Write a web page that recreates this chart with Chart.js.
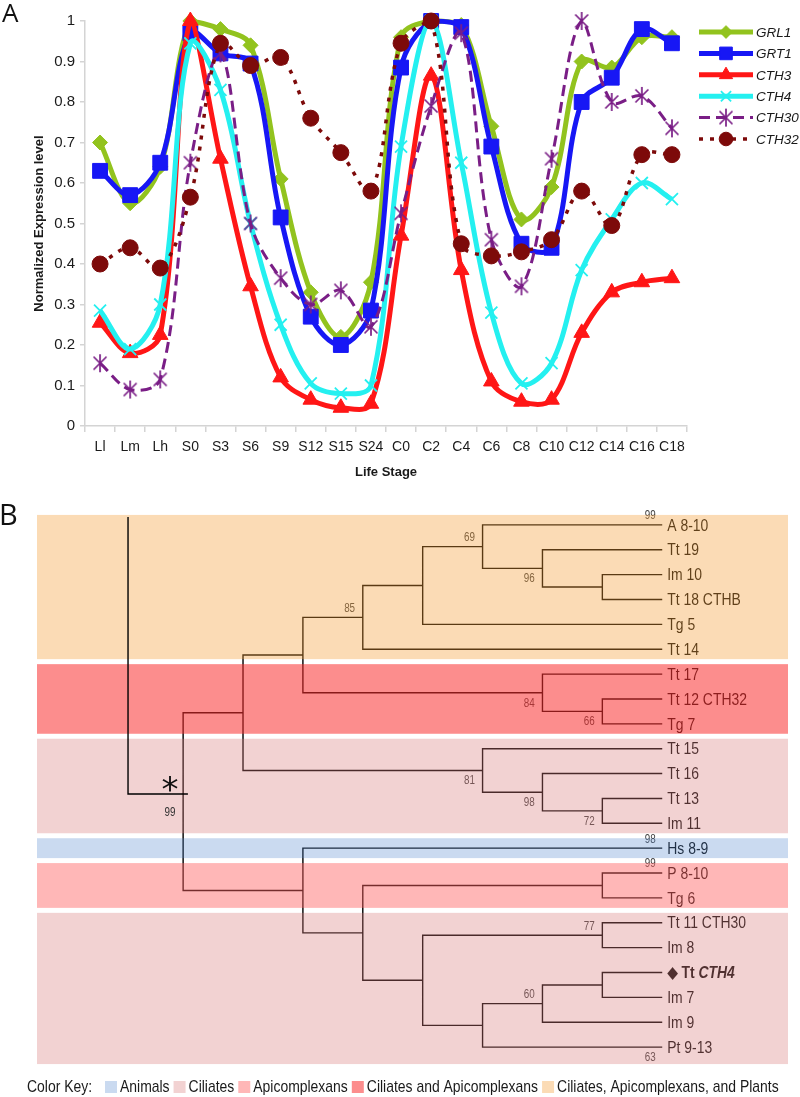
<!DOCTYPE html>
<html>
<head>
<meta charset="utf-8">
<script src="https://cdn.jsdelivr.net/npm/chart.js@4.4.1/dist/chart.umd.min.js"></script>
<style>
body { margin: 0; background: #fff; }
#wrap { position: relative; width: 800px; height: 1097px; }
.box { position: absolute; left: 0; width: 800px; }
</style>
</head>
<body>
<div id="wrap">
  <div class="box" style="top:0;height:490px"><canvas id="expr"></canvas></div>
  <div class="box" style="top:490px;height:607px"><canvas id="tree"></canvas></div>
</div>
<script>
// ---------- panel A : expression profiles ----------
const stages = ['Ll','Lm','Lh','S0','S3','S6','S9','S12','S15','S24','C0','C2','C4','C6','C8','C10','C12','C14','C16','C18'];
const seriesNames = ['GRL1','GRT1','CTH3','CTH4','CTH30','CTH32'];
const grl1  = [0.70,0.55,0.64,1.00,0.98,0.94,0.61,0.33,0.22,0.355,0.96,1.00,0.99,0.74,0.51,0.59,0.90,0.885,0.96,0.96];
const grt1  = [0.63,0.57,0.65,0.97,0.92,0.895,0.515,0.27,0.20,0.285,0.885,1.00,0.985,0.69,0.45,0.44,0.80,0.86,0.98,0.945];
const cth3  = [0.255,0.18,0.225,1.00,0.66,0.345,0.12,0.065,0.045,0.055,0.47,0.865,0.385,0.11,0.06,0.065,0.23,0.33,0.355,0.365];
const cth4  = [0.285,0.19,0.30,0.945,0.83,0.50,0.25,0.105,0.08,0.10,0.69,1.00,0.65,0.28,0.105,0.155,0.385,0.51,0.60,0.56];
const cth30 = [0.155,0.09,0.115,0.65,0.92,0.50,0.365,0.30,0.335,0.245,0.525,0.79,0.97,0.46,0.345,0.66,1.00,0.80,0.815,0.735];
const cth32 = [0.40,0.44,0.39,0.565,0.945,0.89,0.91,0.76,0.675,0.58,0.945,1.00,0.45,0.42,0.43,0.46,0.58,0.495,0.67,0.67];
const yTicks = [0,0.1,0.2,0.3,0.4,0.5,0.6,0.7,0.8,0.9,1];

// ---------- panel B : cladogram ----------
const leafNames = ['A 8-10','Tt 19','Im 10','Tt 18 CTHB','Tg 5','Tt 14','Tt 17','Tt 12 CTH32','Tg 7',
  'Tt 15','Tt 16','Tt 13','Im 11','Hs 8-9','P 8-10','Tg 6','Tt 11 CTH30','Im 8','Tt CTH4','Im 7','Im 9','Pt 9-13'];
const highlightLeaf = 18;
// internal nodes: depth level, children (leaf index or 'c'+clade index), bootstrap
const cladeLevel = [8,7,6,5,4,8,7,3,8,7,6,2,8,8,8,7,6,5,4,3,1];
const cladeKids = [[2,3],[1,'c0'],[0,'c1'],['c2',4],['c3',5],[7,8],[6,'c5'],['c4','c6'],[11,12],[10,'c8'],
  [9,'c9'],['c7','c10'],[14,15],[16,17],[18,19],['c14',20],['c15',21],['c13','c16'],['c12','c17'],[13,'c18'],['c11','c19']];
const cladeSupport = ['','96','69','','85','66','84','','72','98','81','','','77','','60','','','','','99'];
const tipSupport = { 0: '99', 13: '98', 14: '99', 21: '63' };
const rootLineX = [0.08, 0.08, 1.08];
const rootLineY = [-0.32, 10.82, 10.82];
const groupNames = ['Animals','Ciliates','Apicomplexans','Ciliates and Apicomplexans','Ciliates, Apicomplexans, and Plants'];
const bandGroup = [4, 3, 1, 0, 2, 1];
const bandFirst = [0, 6, 9, 13, 14, 16];
const bandLast  = [5, 8, 12, 13, 15, 21];

// ---------- styles ----------
const SANS = '"Liberation Sans", Arial, Helvetica, sans-serif';
const NARROW_K = 0.82;   // no narrow face installed, squeeze Liberation Sans instead
const AXIS = '#d4d4d4';
const INK = '#1a1a1a';
const seriesColor = ['#92C31E', '#1717F5', '#FF1616', '#24F0F0', '#7A1E86', '#7D0A0A'];
const groupTint = ['rgba(84,135,206,0.31)', 'rgba(218,124,124,0.34)', 'rgba(255,97,99,0.46)',
  'rgba(250,47,47,0.55)', 'rgba(243,157,55,0.37)'];
const supportAbove = [2, 4, 13, 15];
const TIP_LEVEL = 9;

function starMark(color, r) {
  const c = document.createElement('canvas');
  const s = 2 * r + 4;
  c.width = c.height = s;
  const g = c.getContext('2d');
  const m = s / 2, d = r * 0.72;
  g.strokeStyle = color;
  g.lineWidth = 1.7;
  g.beginPath();
  g.moveTo(m - d, m - d); g.lineTo(m + d, m + d);
  g.moveTo(m + d, m - d); g.lineTo(m - d, m + d);
  g.moveTo(m, m - r); g.lineTo(m, m + r);
  g.stroke();
  return c;
}

// draws condensed text, returns its width
function narrowText(ctx, text, x, y, font) {
  ctx.save();
  ctx.font = font;
  const w = ctx.measureText(text).width * NARROW_K;
  ctx.translate(x, y);
  ctx.scale(NARROW_K, 1);
  ctx.fillText(text, 0, 0);
  ctx.restore();
  return w;
}

const seriesData = [grl1, grt1, cth3, cth4, cth30, cth32];
const markStyle = [
  { pointStyle: 'rectRot', pointRadius: 7.5, pointBorderWidth: 1, borderWidth: 5 },
  { pointStyle: 'rect', pointRadius: 10.5, pointBorderWidth: 1, borderWidth: 5 },
  { pointStyle: 'triangle', pointRadius: 9, pointBorderWidth: 1, borderWidth: 5 },
  { pointStyle: 'crossRot', pointRadius: 8.5, pointBorderWidth: 1.8, borderWidth: 5 },
  { pointStyle: starMark(seriesColor[4], 9), pointRadius: 9, pointBorderWidth: 1.5, borderWidth: 3, borderDash: [11, 6] },
  { pointStyle: 'circle', pointRadius: 8, pointBorderWidth: 1, borderWidth: 3.5, borderDash: [4, 7] }
];

const datasetsA = seriesData.map((d, i) => Object.assign({
  label: seriesNames[i],
  data: d,
  borderColor: seriesColor[i],
  backgroundColor: seriesColor[i],
  pointBackgroundColor: seriesColor[i],
  pointBorderColor: seriesColor[i],
  tension: 0.35,
  fill: false,
  clip: false,
  order: seriesData.length - 1 - i
}, markStyle[i]));

// legend on the right, lines + markers like the spreadsheet legend
const sideLegend = {
  id: 'sideLegend',
  afterDraw(chart) {
    const ctx = chart.ctx;
    chart.data.datasets.forEach((ds, i) => {
      const y = 32 + i * 21.4;
      ctx.save();
      ctx.strokeStyle = ds.borderColor;
      ctx.lineWidth = ds.borderWidth;
      ctx.setLineDash(ds.borderDash || []);
      ctx.beginPath();
      ctx.moveTo(699, y);
      ctx.lineTo(753, y);
      ctx.stroke();
      ctx.setLineDash([]);
      ctx.fillStyle = ds.pointBackgroundColor;
      ctx.strokeStyle = ds.pointBorderColor;
      ctx.lineWidth = ds.pointBorderWidth;
      Chart.helpers.drawPoint(ctx, { pointStyle: ds.pointStyle, rotation: 0, radius: ds.pointRadius * 0.85, borderWidth: ds.pointBorderWidth }, 726, y);
      ctx.fillStyle = INK;
      ctx.font = 'italic 13.5px ' + SANS;
      ctx.textBaseline = 'middle';
      ctx.fillText(ds.label, 756, y + 1);
      ctx.restore();
    });
    ctx.save();
    ctx.fillStyle = '#111';
    ctx.font = '26px "Open Sans", ' + SANS;
    ctx.textBaseline = 'alphabetic';
    ctx.fillText('A', 2, 22);
    ctx.restore();
  }
};

new Chart(document.getElementById('expr'), {
  type: 'line',
  data: { labels: stages, datasets: datasetsA },
  options: {
    responsive: true,
    maintainAspectRatio: false,
    animation: false,
    layout: { padding: { left: 28, right: 113, top: 21, bottom: 6 } },
    plugins: { legend: { display: false }, tooltip: { enabled: false } },
    scales: {
      x: {
        offset: true,
        grid: { offset: true, drawOnChartArea: false, tickLength: 6, color: AXIS, lineWidth: 1.5 },
        border: { color: AXIS, width: 1.5 },
        ticks: { font: { family: SANS, size: 14 }, color: INK, padding: 7, maxRotation: 0, autoSkip: false },
        title: { display: true, text: 'Life Stage', color: INK, font: { family: SANS, size: 13, weight: 'bold' }, padding: { top: 4, bottom: 4 } },
        afterFit(s) { s.height = 58; }
      },
      y: {
        min: 0,
        max: 1,
        afterBuildTicks(s) { s.ticks = yTicks.map(v => ({ value: v })); },
        grid: { drawOnChartArea: false, tickLength: 5, color: AXIS, lineWidth: 1.5 },
        border: { color: AXIS, width: 1.5 },
        ticks: { font: { family: SANS, size: 15 }, color: INK, padding: 5, callback: v => String(Math.round(v * 10) / 10) },
        title: { display: true, text: 'Normalized Expression level', color: INK, font: { family: SANS, size: 13, weight: 'bold' }, padding: { top: 4, bottom: 4 } },
        afterFit(s) { s.width = 57; }
      }
    }
  },
  plugins: [sideLegend]
});

// ---------- build tree geometry from the topology ----------
const cladeYs = [];
function refY(ref) {
  if (typeof ref === 'number') return ref;
  const k = +ref.slice(1);
  if (cladeYs[k] === undefined) cladeYs[k] = (refY(cladeKids[k][0]) + refY(cladeKids[k][1])) / 2;
  return cladeYs[k];
}
function refLevel(ref) {
  return typeof ref === 'number' ? TIP_LEVEL : cladeLevel[+ref.slice(1)];
}
const treePts = [];
cladeKids.forEach((kids, k) => {
  const [a, b] = kids;
  treePts.push({ x: refLevel(a), y: refY(a) }, { x: cladeLevel[k], y: refY(a) },
               { x: cladeLevel[k], y: refY(b) }, { x: refLevel(b), y: refY(b) }, { x: null, y: null });
});
const rootPts = rootLineX.map((x, i) => ({ x, y: rootLineY[i] }));
const rootClade = cladeKids.length - 1;

const treeDecor = {
  id: 'treeDecor',
  afterDatasetDraw(chart, args) {
    if (args.index !== 1) return;
    const ctx = chart.ctx;
    const xs = chart.scales.x, ys = chart.scales.y, area = chart.chartArea;
    ctx.save();
    ctx.textBaseline = 'middle';
    ctx.fillStyle = '#0a0a0a';
    // leaf labels
    leafNames.forEach((name, i) => {
      let x = xs.getPixelForValue(TIP_LEVEL) + 5;
      const y = ys.getPixelForValue(i) + 1;
      if (i === highlightLeaf) {
        const sp = name.indexOf(' ');
        x += narrowText(ctx, '\u25C6 ', x, y, '17px "DejaVu Sans", ' + SANS) - 1;
        x += narrowText(ctx, name.slice(0, sp + 1), x, y, 'bold 17px ' + SANS);
        narrowText(ctx, name.slice(sp + 1), x, y, 'italic bold 17px ' + SANS);
      } else {
        narrowText(ctx, name, x, y, '17px ' + SANS);
      }
    });
    // bootstrap values
    ctx.fillStyle = '#444';
    ctx.textAlign = 'center';
    cladeSupport.forEach((s, k) => {
      if (!s || k === rootClade) return;
      const y = refY('c' + k) + (supportAbove.includes(k) ? -0.36 : 0.43);
      narrowText(ctx, s, xs.getPixelForValue(cladeLevel[k] - 0.22), ys.getPixelForValue(y), '12px ' + SANS);
    });
    Object.keys(tipSupport).forEach(i => {
      const y = +i + (+i === leafNames.length - 1 ? 0.42 : -0.36);
      narrowText(ctx, tipSupport[i], xs.getPixelForValue(TIP_LEVEL - 0.2), ys.getPixelForValue(y), '12px ' + SANS);
    });
    // tinted group bands laid over lines and labels
    bandGroup.forEach((g, b) => {
      const top = ys.getPixelForValue(bandFirst[b] - 0.4);
      const last = b === bandGroup.length - 1 ? bandLast[b] + 0.68 : bandLast[b] + 0.4;
      const bottom = ys.getPixelForValue(last);
      ctx.fillStyle = groupTint[g];
      ctx.fillRect(area.left, top, area.right - area.left, bottom - top);
    });
    ctx.restore();
  },
  afterDraw(chart) {
    const ctx = chart.ctx;
    const xs = chart.scales.x, ys = chart.scales.y;
    ctx.save();
    const rx = xs.getPixelForValue(cladeLevel[rootClade] - 0.22);
    const ry = ys.getPixelForValue(refY('c' + rootClade));
    ctx.fillStyle = '#111';
    ctx.textAlign = 'center';
    ctx.font = '34px "DejaVu Sans", ' + SANS;
    ctx.textBaseline = 'alphabetic';
    ctx.fillText('*', rx, ry - 1);
    ctx.fillStyle = '#333';
    ctx.textBaseline = 'middle';
    narrowText(ctx, cladeSupport[rootClade], rx, ys.getPixelForValue(refY('c' + rootClade) + 0.43), '12px ' + SANS);
    // colour key
    const ky = 597;
    ctx.textAlign = 'left';
    ctx.fillStyle = INK;
    narrowText(ctx, 'Color Key:', 27, ky, '17px ' + SANS);
    let x = 105;
    groupNames.forEach((name, g) => {
      ctx.fillStyle = groupTint[g];
      ctx.fillRect(x, ky - 6, 12, 12);
      ctx.fillStyle = INK;
      x += 15 + narrowText(ctx, name, x + 15, ky, '17px ' + SANS) + 4;
    });
    ctx.fillStyle = '#111';
    ctx.font = '29px "Open Sans", ' + SANS;
    ctx.textBaseline = 'alphabetic';
    ctx.fillText('B', -1, 35);
    ctx.restore();
  }
};

new Chart(document.getElementById('tree'), {
  type: 'scatter',
  data: {
    datasets: [
      { data: rootPts, showLine: true, borderColor: '#000', borderWidth: 1.4, pointRadius: 0, spanGaps: false },
      { data: treePts, showLine: true, borderColor: '#000', borderWidth: 1.4, pointRadius: 0, spanGaps: false }
    ]
  },
  options: {
    responsive: true,
    maintainAspectRatio: false,
    animation: false,
    layout: { padding: { left: 37, right: 12, top: 10, bottom: 25 } },
    plugins: { legend: { display: false }, tooltip: { enabled: false } },
    scales: {
      x: { type: 'linear', display: false, min: -1.44, max: 11.1 },
      y: { type: 'linear', display: false, reverse: true, min: -1, max: 22 }
    }
  },
  plugins: [treeDecor]
});
</script>
</body>
</html>
